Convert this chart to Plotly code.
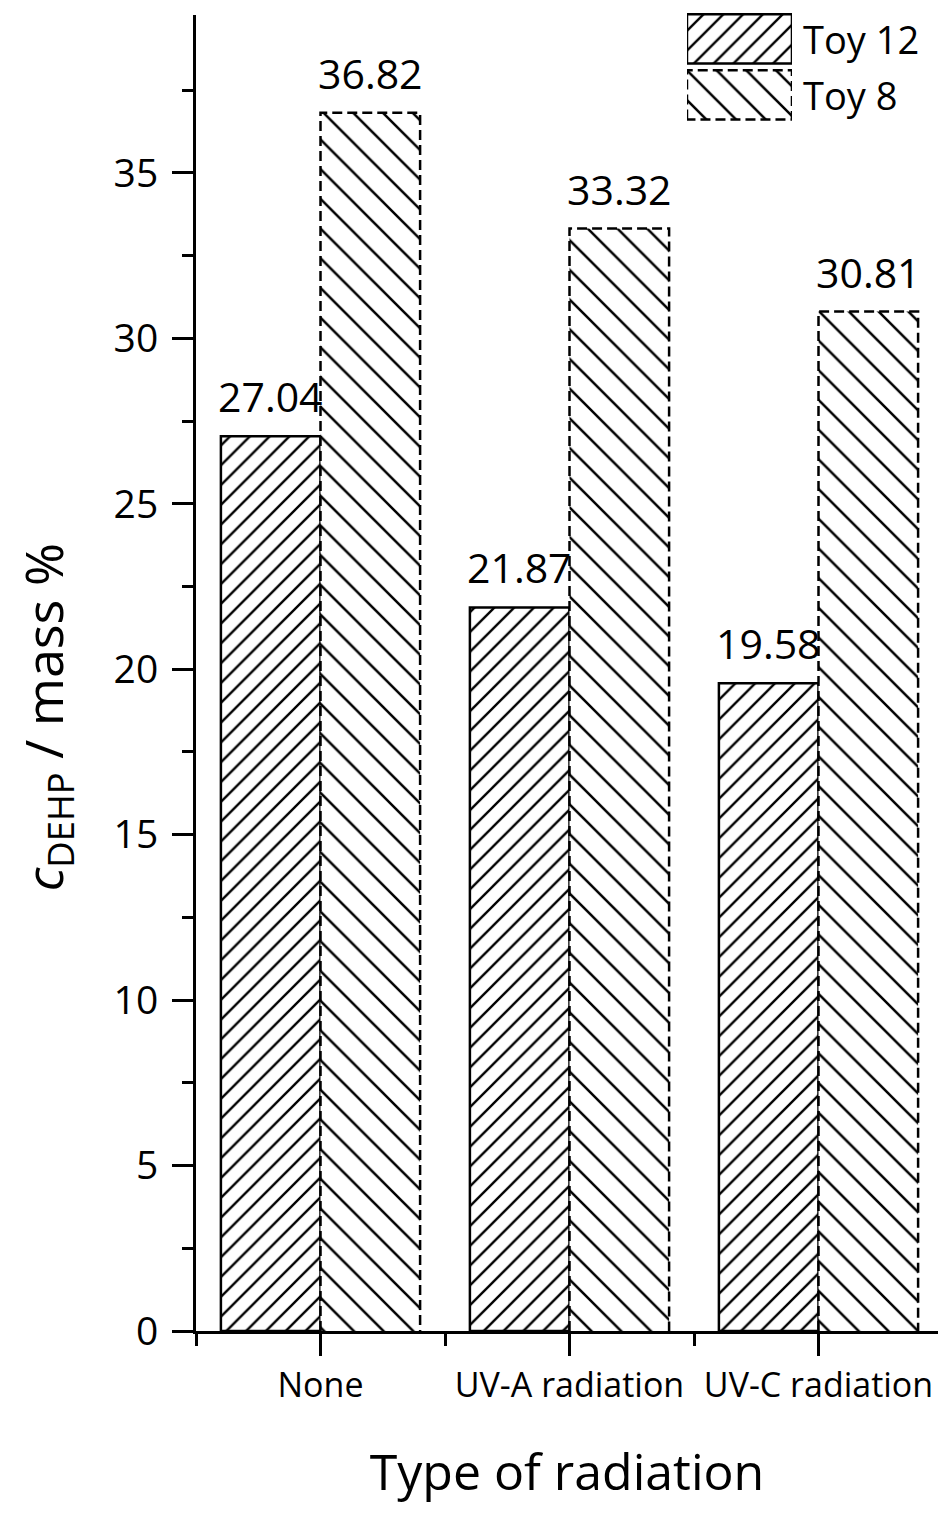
import plotly.graph_objects as go

# ---- data ----
categories = ["None", "UV-A radiation", "UV-C radiation"]
toy12 = [27.04, 21.87, 19.58]
toy8 = [36.82, 33.32, 30.81]
series_names = ["Toy 12", "Toy 8"]
y_ticks = [0, 5, 10, 15, 20, 25, 30, 35]

FONT = "Open Sans"
BAR_W = 0.4
pos = list(range(len(categories)))

fig = go.Figure()

pat12 = dict(shape="/", size=14, solidity=0.17, fgcolor="black", bgcolor="white", fillmode="replace")
pat8 = dict(shape="\\", size=21, solidity=0.12, fgcolor="black", bgcolor="white", fillmode="replace")

# Toy 12 bars (solid outline)
fig.add_trace(go.Bar(x=pos, y=toy12, width=BAR_W, offset=-BAR_W, name=series_names[0],
                     marker=dict(color="white", pattern=pat12, line=dict(color="black", width=2.5)),
                     showlegend=False))
# Toy 8 bars (dashed outline drawn separately)
fig.add_trace(go.Bar(x=pos, y=toy8, width=BAR_W, offset=0, name=series_names[1],
                     marker=dict(color="white", pattern=pat8, line=dict(width=0)),
                     showlegend=False))
ox, oy = [], []
for p, v in zip(pos, toy8):
    ox += [p, p, p + BAR_W, p + BAR_W, None]
    oy += [0, v, v, 0, None]
fig.add_trace(go.Scatter(x=ox, y=oy, mode="lines", line=dict(color="black", width=2.5, dash="10px,5px"),
                         showlegend=False, hoverinfo="skip", cliponaxis=False))

# value labels
for p, v in zip(pos, toy12):
    fig.add_annotation(x=p - BAR_W / 2, y=v, text=f"{v:.2f}", showarrow=False, yanchor="bottom",
                       yshift=10, font=dict(family=FONT, size=41, color="black"))
for p, v in zip(pos, toy8):
    fig.add_annotation(x=p + BAR_W / 2, y=v, text=f"{v:.2f}", showarrow=False, yanchor="bottom",
                       yshift=10, font=dict(family=FONT, size=41, color="black"))

# ---- custom legend on a hidden subplot ----
fig.add_trace(go.Bar(x=[1], y=[1], orientation="h", width=0.88, xaxis="x2", yaxis="y2",
                     marker=dict(color="white", pattern=pat12, line=dict(color="black", width=2.5)),
                     showlegend=False, hoverinfo="skip"))
fig.add_trace(go.Bar(x=[1], y=[0], orientation="h", width=0.88, xaxis="x2", yaxis="y2",
                     marker=dict(color="white", pattern=pat8, line=dict(width=0)),
                     showlegend=False, hoverinfo="skip"))
fig.add_trace(go.Scatter(x=[0, 0, 1, 1, 0], y=[-0.44, 0.44, 0.44, -0.44, -0.44], mode="lines",
                         xaxis="x2", yaxis="y2", line=dict(color="black", width=2.5, dash="10px,5px"),
                         showlegend=False, hoverinfo="skip", cliponaxis=False))
for yy, nm in zip([1, 0], series_names):
    fig.add_annotation(x=1, y=yy, xref="x2", yref="y2", text=nm, showarrow=False, xanchor="left",
                       yanchor="middle", xshift=9, font=dict(family=FONT, size=38, color="black"))

# y-axis title
fig.add_annotation(xref="paper", yref="paper", x=0, y=0.465, xshift=-150, xanchor="center",
                   yanchor="middle", textangle=-90,
                   text="<i>c</i><sub>DEHP</sub> / mass %", showarrow=False,
                   font=dict(family=FONT, size=52, color="black"))

# page body has an 8px margin: size the figure to fit the window exactly
W, H = 930, 1497
mt, mb, ml, mr = 3, 174, 188, 0
ph = H - mt - mb
pw = W - ml - mr
cat_px = 249.0
fig.update_layout(
    width=W, height=H,
    margin=dict(l=ml, r=mr, t=mt, b=mb, autoexpand=False),
    paper_bgcolor="white", plot_bgcolor="white",
    barmode="overlay",
    font=dict(family=FONT, color="black"),
    xaxis=dict(
        range=[-0.5, -0.5 + pw / cat_px], tickmode="array", tickvals=pos, ticktext=categories,
        automargin=False,
        showline=True, linecolor="black", linewidth=3, ticks="outside", ticklen=22, tickwidth=3,
        tickcolor="black", showgrid=False, zeroline=False,
        tickfont=dict(family=FONT, size=34, color="black"),
        minor=dict(tickmode="array", tickvals=[-0.5, 0.5, 1.5, 2.5], ticklen=12, tickwidth=3,
                   tickcolor="black", ticks="outside"),
        title=dict(text="Type of radiation", font=dict(family=FONT, size=50, color="black"), standoff=50),
        ticklabelstandoff=0,
    ),
    yaxis=dict(
        range=[0, 39.775], domain=[0, (ph - 4) / ph], tickmode="array", tickvals=y_ticks, automargin=False,
        showline=True, linecolor="black", linewidth=3, ticks="outside", ticklen=21, tickwidth=3,
        tickcolor="black", showgrid=False, zeroline=False,
        tickfont=dict(family=FONT, size=39, color="black"),
        minor=dict(dtick=2.5, tick0=0, ticklen=11, tickwidth=3, tickcolor="black", ticks="outside"),
        ticklabelstandoff=6,
    ),
    xaxis2=dict(domain=[0.6617, 0.8032], anchor="y2", range=[0, 1], visible=False, fixedrange=True),
    yaxis2=dict(domain=[0.9152, 1.0], anchor="x2", range=[-0.5, 1.5], visible=False, fixedrange=True),
)

fig.write_html("out.html")
